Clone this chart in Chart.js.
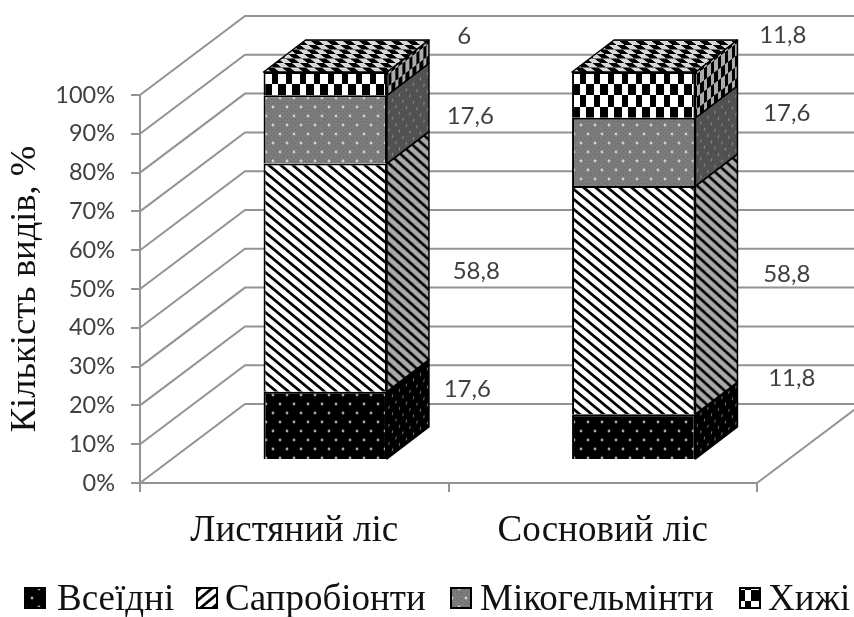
<!DOCTYPE html>
<html>
<head>
<meta charset="utf-8">
<style>
  html, body { margin: 0; background: #fff; }
  canvas { display: block; }
</style>
<script src="https://cdn.jsdelivr.net/npm/chart.js@4"></script>
</head>
<body>
<canvas id="chart" width="854" height="617"></canvas>
<script>
// Chart data
const categories = ['Листяний ліс', 'Сосновий ліс'];
const seriesNames = ['Всеїдні', 'Сапробіонти', 'Мікогельмінти', 'Хижі'];
const vseidni = [17.6, 11.8];
const saprobionty = [58.8, 58.8];
const mikohelminty = [17.6, 17.6];
const khyzhi = [6, 11.8];

// Hand placed value labels, offset from the centre of each bar segment
const labelShift = [
    [[142, -36], [158, -58]],
    [[151, -6], [153, -26]],
    [[145, -13], [153, -39]],
    [[139, -47], [149, -60]]
];

// Legend swatch left edges and the gap to the text
const legendBoxX = [25, 197, 451, 740];
const legendTextGap = [12, 8, 9, 8];

const SERIF = '"Liberation Serif", serif';
const SANS = 'Lato, sans-serif';
const GRID = '#939393';

// Depth of the 3D box
const wallX = 105, wallY = -79;
const barShiftX = 31, barShiftY = -23;
const sideX = 42, sideY = -32;
const sideSqueeze = 0.5;

function makePattern(w, h, paint, offX, offY) {
    const c = document.createElement('canvas');
    c.width = w;
    c.height = h;
    paint(c.getContext('2d'));
    const p = c.getContext('2d').createPattern(c, 'repeat');
    if (offX || offY) p.setTransform(new DOMMatrix().translate(offX || 0, offY || 0));
    return p;
}

function dots(g, color) {
    g.fillStyle = color;
    [[4, 4], [11, 13]].forEach(d => {
        g.beginPath();
        g.arc(d[0], d[1], 1.4, 0, Math.PI * 2);
        g.fill();
    });
}

const patterns = [
    makePattern(14, 18, g => {
        g.fillStyle = '#000';
        g.fillRect(0, 0, 14, 18);
        dots(g, '#a8a8a8');
    }),
    makePattern(12, 10, g => {
        g.fillStyle = '#fff';
        g.fillRect(0, 0, 12, 10);
        g.strokeStyle = '#000';
        g.lineWidth = 2.8;
        for (let i = -12; i <= 12; i += 12) {
            g.beginPath();
            g.moveTo(i - 2.4, -2);
            g.lineTo(i + 14.4, 12);
            g.stroke();
        }
    }),
    makePattern(14, 18, g => {
        g.fillStyle = '#7c7c7c';
        g.fillRect(0, 0, 14, 18);
        g.fillStyle = '#686868';
        for (let y = 0; y < 18; y += 2) {
            for (let x = y % 4; x < 14; x += 4) g.fillRect(x, y, 1, 1);
        }
        dots(g, '#d0d0d0');
    }),
    makePattern(14, 23, g => {
        g.fillStyle = '#fff';
        g.fillRect(0, 0, 14, 23);
        g.fillStyle = '#000';
        g.fillRect(8, 0, 6, 12);
        g.fillRect(0, 12, 8, 11);
    }, 9, 3)
];

const topPattern = makePattern(16, 9, g => {
    g.fillStyle = '#d8d8d8';
    g.fillRect(0, 0, 16, 9);
    g.fillStyle = '#000';
    g.fillRect(0, 0, 8, 4.5);
    g.fillRect(8, 4.5, 8, 4.5);
});

function fillFace(ctx, pts, pattern, matrix, shade) {
    ctx.save();
    ctx.beginPath();
    pts.forEach((p, i) => (i ? ctx.lineTo(p[0], p[1]) : ctx.moveTo(p[0], p[1])));
    ctx.closePath();
    ctx.save();
    ctx.clip();
    ctx.save();
    ctx.transform(...matrix);
    ctx.fillStyle = pattern;
    ctx.fillRect(-2000, -2000, 4000, 4000);
    ctx.restore();
    if (shade) {
        ctx.fillStyle = shade;
        ctx.fillRect(0, 0, 854, 617);
    }
    ctx.restore();
    ctx.strokeStyle = '#000';
    ctx.lineWidth = 1.5;
    ctx.lineJoin = 'round';
    ctx.stroke();
    ctx.restore();
}

// Back wall and floor, taken from the chart's own y scale
const wallPlugin = {
    id: 'wall',
    beforeDatasetsDraw(chart) {
        const { ctx, chartArea, scales } = chart;
        ctx.save();
        ctx.strokeStyle = GRID;
        ctx.lineWidth = 2;
        scales.y.ticks.forEach(t => {
            const y = scales.y.getPixelForValue(t.value);
            ctx.beginPath();
            ctx.moveTo(chartArea.left, y);
            ctx.lineTo(chartArea.left + wallX, y + wallY);
            ctx.lineTo(chartArea.right + wallX, y + wallY);
            ctx.stroke();
        });
        const b = scales.y.getPixelForValue(0);
        ctx.beginPath();
        ctx.moveTo(chartArea.right, b);
        ctx.lineTo(chartArea.right + wallX, b + wallY);
        ctx.stroke();
        ctx.restore();
        // bars sit in the middle of the floor depth
        ctx.save();
        ctx.translate(barShiftX, barShiftY);
    },
    afterDatasetsDraw(chart) {
        const { ctx, data } = chart;
        // side faces, bottom to top
        data.datasets.forEach((ds, i) => {
            chart.getDatasetMeta(i).data.forEach(bar => {
                const r = bar.x + bar.width / 2;
                fillFace(ctx,
                    [[r, bar.base], [r + sideX, bar.base + sideY], [r + sideX, bar.y + sideY], [r, bar.y]],
                    patterns[i],
                    [sideSqueeze, sideSqueeze * sideY / sideX, 0, 1, r, bar.base],
                    'rgba(0,0,0,0.33)');
            });
        });
        // top face
        const last = chart.getDatasetMeta(data.datasets.length - 1);
        last.data.forEach(bar => {
            const l = bar.x - bar.width / 2, r = bar.x + bar.width / 2;
            fillFace(ctx,
                [[l, bar.y], [r, bar.y], [r + sideX, bar.y + sideY], [l + sideX, bar.y + sideY]],
                topPattern,
                [1, 0, -sideX / sideY, 1, l, bar.y],
                null);
        });
        ctx.restore();

        // value labels
        ctx.save();
        ctx.font = '24px ' + SANS;
        ctx.fillStyle = '#404040';
        ctx.textAlign = 'center';
        ctx.textBaseline = 'middle';
        data.datasets.forEach((ds, i) => {
            chart.getDatasetMeta(i).data.forEach((bar, j) => {
                const text = String(ds.data[j]).replace('.', ',');
                const cx = bar.x + barShiftX + labelShift[i][j][0];
                const cy = (bar.y + bar.base) / 2 + barShiftY + labelShift[i][j][1];
                ctx.fillText(text, cx, cy);
            });
        });
        ctx.restore();
    }
};

// Legend row drawn by hand, the built-in one can't sit this tight
const legendPlugin = {
    id: 'legendRow',
    afterDraw(chart) {
        const { ctx, data } = chart;
        const boxSize = 20;
        const baseline = 610;
        ctx.save();
        ctx.textBaseline = 'alphabetic';
        ctx.font = '37px ' + SERIF;
        data.datasets.forEach((ds, i) => {
            const x = legendBoxX[i];
            ctx.save();
            ctx.beginPath();
            ctx.rect(x, 588, boxSize, boxSize);
            ctx.clip();
            // the swatch for the stripes leans the other way in the original
            if (i === 1) {
                ctx.translate(2 * x + boxSize, 0);
                ctx.scale(-1, 1);
            }
            ctx.fillStyle = ds.backgroundColor;
            ctx.fillRect(x, 588, boxSize, boxSize);
            ctx.restore();
            ctx.strokeStyle = '#000';
            ctx.lineWidth = 2;
            ctx.strokeRect(x, 588, boxSize, boxSize);
            ctx.fillStyle = '#111';
            ctx.fillText(ds.label, x + boxSize + legendTextGap[i], baseline);
        });
        ctx.restore();
    }
};

const seriesValues = [vseidni, saprobionty, mikohelminty, khyzhi];

new Chart(document.getElementById('chart'), {
    type: 'bar',
    data: {
        labels: categories,
        datasets: seriesNames.map((name, i) => ({
            label: name,
            data: seriesValues[i],
            backgroundColor: patterns[i],
            borderColor: '#000',
            borderWidth: 2,
            categoryPercentage: 0.4,
            barPercentage: 1
        }))
    },
    options: {
        responsive: false,
        animation: false,
        layout: { padding: { top: 95, right: 97, left: 0, bottom: 0 } },
        plugins: {
            legend: { display: false },
            tooltip: { enabled: false }
        },
        scales: {
            x: {
                stacked: true,
                afterFit(scale) { scale.height = 134; },
                grid: { drawOnChartArea: false, color: GRID, lineWidth: 2, tickLength: 9 },
                border: { color: GRID, width: 2 },
                ticks: {
                    color: '#111',
                    padding: 17,
                    maxRotation: 0,
                    font: { family: SERIF, size: 37 }
                }
            },
            y: {
                stacked: true,
                min: 0,
                max: 100,
                afterFit(scale) { scale.width = 140; },
                grid: { drawOnChartArea: false, color: GRID, lineWidth: 2, tickLength: 9 },
                border: { color: GRID, width: 2 },
                title: {
                    display: true,
                    text: 'Кількість видів, %',
                    color: '#111',
                    padding: { top: 4, bottom: 0 },
                    font: { family: SERIF, size: 36.5, weight: 'normal' }
                },
                ticks: {
                    stepSize: 10,
                    color: '#404040',
                    padding: 16,
                    font: { family: SANS, size: 23.5 },
                    callback: value => value + '%'
                }
            }
        }
    },
    plugins: [wallPlugin, legendPlugin]
});
</script>
</body>
</html>
